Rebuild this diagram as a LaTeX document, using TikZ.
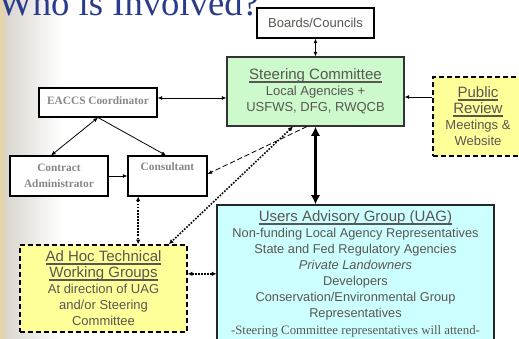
\documentclass[tikz,border=0pt]{standalone}
\usepackage{fontspec}
\setmainfont{Liberation Sans}
\newfontfamily\tnr{Liberation Serif}
\usetikzlibrary{arrows.meta,calc}
\definecolor{txtgray}{RGB}{90,86,82}
\definecolor{sergray}{RGB}{135,135,135}
\definecolor{titleblue}{RGB}{43,59,140}
\definecolor{greenfill}{RGB}{204,250,204}
\definecolor{yelfill}{RGB}{255,255,153}
\definecolor{cyanfill}{RGB}{204,255,255}
\definecolor{beige}{RGB}{228,212,172}
\definecolor{bggray}{RGB}{218,214,206}
\newsavebox\hdbox
\newcommand\hd[1]{{\fontsize{11.25}{12}\selectfont\sbox\hdbox{#1}\rlap{\rule[-2.6pt]{\wd\hdbox}{1.5pt}}\usebox\hdbox}}
\begin{document}
\begin{tikzpicture}[x=0.75pt,y=-0.75pt,
  every node/.style={inner sep=0pt},
  box/.style={draw=black, fill=white, line width=0.8pt, align=center, text=txtgray,
    font=\fontsize{9.75}{12}\selectfont},
  serbox/.style={box, text=sergray, font=\tnr\bfseries\fontsize{8.5}{12}\selectfont},
  dbox/.style={box, fill=yelfill, line width=1.2pt, dash pattern=on 3.5pt off 2.5pt},
  conn/.style={line width=0.6pt, {Latex[length=3.5pt,width=3pt]}-{Latex[length=3.5pt,width=3pt]}},
  oneway/.style={line width=0.6pt, -{Latex[length=3.5pt,width=3pt]}},
  dotconn/.style={line width=1.2pt, dash pattern=on 1.2pt off 1.1pt,
    {Latex[length=3.5pt,width=3.5pt]}-{Latex[length=3.5pt,width=3.5pt]}},
  dashconn/.style={line width=0.6pt, dash pattern=on 4pt off 2pt, -{Latex[length=3.5pt,width=3pt]}},
  thickconn/.style={line width=2.2pt, {Latex[length=7pt,width=7pt]}-{Latex[length=7pt,width=7pt]}}
]
\useasboundingbox (0,0) rectangle (519,339);
\clip (0,0) rectangle (519,339);
\fill[white] (0,0) rectangle (519,339);
\fill[beige] (0,0) rectangle (5,339);
\shade[left color=bggray, right color=white] (5,0) rectangle (62,339);

% title
\node[anchor=base west, text=titleblue, font=\tnr\fontsize{27.5}{30}\selectfont] (title) at (-2,16) {Who is Involved?};

% boxes
\node[box, minimum width=87.75pt, minimum height=22.5pt] (boards) at (315.5,23) {Boards/Councils};
\node[box, draw=black!80, fill=greenfill, minimum width=132.75pt, minimum height=51.75pt] (steer) at (315.5,91.5)
  {\hd{Steering Committee}\\Local Agencies +\\USFWS, DFG, RWQCB};
\node[dbox, minimum width=67.5pt, minimum height=59.25pt] (public) at (478,116.5)
  {\hd{Public}\\\hd{Review}\\Meetings \&\\Website};
\node[serbox, minimum width=88.5pt, minimum height=21.75pt, text depth=3.4pt] (eaccs) at (98,102.5) {EACCS Coordinator};
\node[serbox, minimum width=73.5pt, minimum height=30pt] (contract) at (59,176) {Contract\\Administrator};
\node[serbox, minimum width=59.25pt, minimum height=30pt] (consultant) at (167.5,176) {};
\node[text=sergray, font=\tnr\bfseries\fontsize{8.5}{12}\selectfont] (constxt) at (167.5,167) {Consultant};
\node[box, draw=black!85, fill=cyanfill, minimum width=207.75pt, minimum height=105pt] (uag) at (355.5,275) {};
\node[anchor=north, align=center, text=txtgray, font=\fontsize{9.6}{12.1}\selectfont] (uagtxt) at (355.5,210)
  {\hd{Users Advisory Group (UAG)}\\
   Non-funding Local Agency Representatives\\
   State and Fed Regulatory Agencies\\
   \textit{Private Landowners}\\
   Developers\\
   Conservation/Environmental Group\\
   Representatives\\
   {\tnr\fontsize{9.6}{12}\selectfont -Steering Committee representatives will attend-}};
\node[dbox, minimum width=125.25pt, minimum height=65.25pt] (adhoc) at (103.5,288.5)
  {\hd{Ad Hoc Technical}\\\hd{Working Groups}\\At direction of UAG\\and/or Steering\\Committee};

% connectors
\draw[conn] (boards.south) -- (steer.north);
\draw[conn] ([yshift=3.4pt]eaccs.east) -- ([yshift=3.4pt]eaccs.east -| steer.west);
\draw[oneway] ([yshift=14.6pt]public.west) -- ([yshift=14.6pt]public.west -| steer.east);
\draw[conn] (eaccs.south) -- ([xshift=-6pt]contract.north);
\draw[oneway] (eaccs.south) -- ([xshift=-1pt]consultant.north);
\draw[oneway] (contract.east) -- (consultant.west);
\draw[dashconn] ([xshift=-6.4pt]steer.south) -- ([yshift=1.5pt]consultant.east);
\draw[dotconn] ([xshift=-16.9pt]steer.south) -- ([xshift=49pt]adhoc.north);
\draw[dotconn] ([xshift=-22pt]consultant.south) -- ([xshift=-22pt]consultant.south |- adhoc.north);
\draw[dotconn] ([yshift=11pt]adhoc.east) -- ([yshift=11pt]adhoc.east -| uag.west);
\draw[thickconn] (steer.south) -- (steer.south |- uag.north);
\end{tikzpicture}
\end{document}
